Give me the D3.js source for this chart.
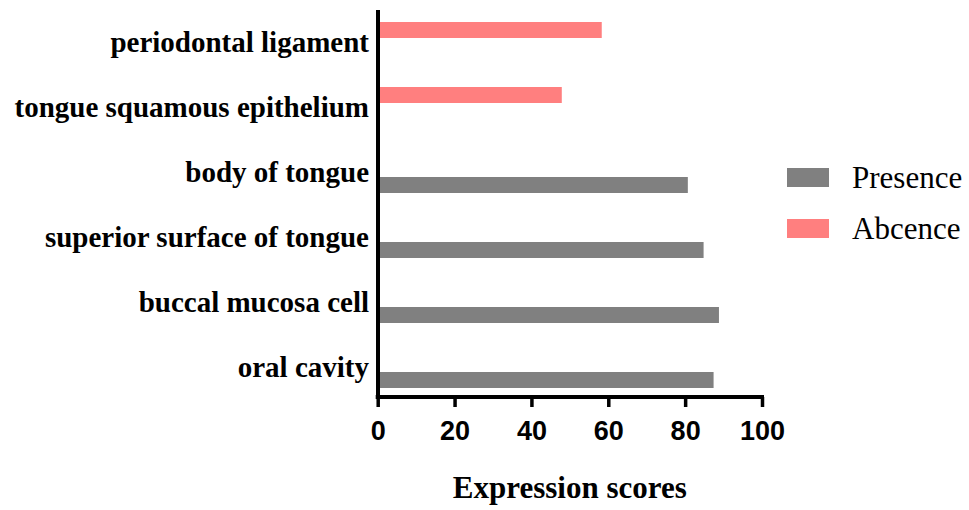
<!DOCTYPE html>
<html>
<head>
<meta charset="utf-8">
<script src="https://cdn.jsdelivr.net/npm/d3@7"></script>
<style>
  body { margin: 0; background: #fff; }
  svg { display: block; }
</style>
</head>
<body>
<div id="my_dataviz"></div>
<script>
var categories = ["periodontal ligament", "tongue squamous epithelium", "body of tongue",
                  "superior surface of tongue", "buccal mucosa cell", "oral cavity"];
var seriesNames = ["Abcence", "Presence"];
var presence = [null, null, 80.7, 84.8, 88.8, 87.4];
var abcence = [58.3, 47.9, null, null, null, null];
var xTicks = [0, 20, 40, 60, 80, 100];

var colors = {Presence: "#808080", Abcence: "#ff7f7f"};

var width = 969, height = 510;
var serif = "'Liberation Serif', 'Times New Roman', serif";

var svg = d3.select("#my_dataviz")
  .append("svg")
    .attr("width", width)
    .attr("height", height);

var x = d3.scaleLinear()
  .domain([0, 100])
  .range([377.7, 762]);

var y = d3.scaleBand()
  .domain(categories)
  .range([10, 400]);

// inner band: Abcence on top, Presence below
var y1 = d3.scaleBand()
  .domain(seriesNames)
  .range([y.bandwidth() / 2 - 20.5, y.bandwidth() / 2 + 20.5])
  .paddingInner(0.36);

var rows = [];
categories.forEach(function(c, i) {
  if (abcence[i] != null) rows.push({cat: c, series: "Abcence", value: abcence[i]});
  if (presence[i] != null) rows.push({cat: c, series: "Presence", value: presence[i]});
});

svg.append("g").selectAll("rect")
  .data(rows)
  .enter()
  .append("rect")
    .attr("x", x(0))
    .attr("y", function(d) { return y(d.cat) + y1(d.series); })
    .attr("width", function(d) { return x(d.value) - x(0); })
    .attr("height", y1.bandwidth())
    .attr("fill", function(d) { return colors[d.series]; });

// x axis
var xAxis = svg.append("g")
  .attr("transform", "translate(0,397)")
  .call(d3.axisBottom(x).tickValues(xTicks).tickSize(10).tickSizeOuter(0).tickPadding(14));
xAxis.select(".domain")
  .attr("stroke", "#000")
  .attr("stroke-width", 4)
  .attr("d", "M" + (x(0) - 2) + ",0H" + (x(100) + 2));
xAxis.selectAll(".tick line")
  .attr("stroke", "#000")
  .attr("stroke-width", 3.5);
xAxis.selectAll(".tick text")
  .attr("fill", "#000")
  .style("font-family", "'Liberation Sans', Arial, sans-serif")
  .style("font-weight", "bold")
  .style("font-size", "27px");

// y axis
var yAxis = svg.append("g")
  .attr("transform", "translate(378,0)")
  .call(d3.axisLeft(y).tickSize(0).tickPadding(9));
yAxis.select(".domain")
  .attr("stroke", "#000")
  .attr("stroke-width", 4)
  .attr("d", "M0,10V399");
yAxis.selectAll(".tick text")
  .attr("fill", "#000")
  .style("font-family", serif)
  .style("font-weight", "bold")
  .style("font-size", "29px");

// axis title
svg.append("text")
  .attr("x", x(50))
  .attr("y", 498)
  .attr("text-anchor", "middle")
  .style("font-family", serif)
  .style("font-weight", "bold")
  .style("font-size", "31px")
  .text("Expression scores");

// legend
var legendOrder = ["Presence", "Abcence"];
var legend = svg.append("g").selectAll("g")
  .data(legendOrder)
  .enter()
  .append("g")
    .attr("transform", function(d, i) { return "translate(787," + (168 + i * 51) + ")"; });
legend.append("rect")
  .attr("width", 42)
  .attr("height", 19)
  .attr("fill", function(d) { return colors[d]; });
legend.append("text")
  .attr("x", 65)
  .attr("y", 20)
  .style("font-family", serif)
  .style("font-size", "31px")
  .text(function(d) { return d; });
</script>
</body>
</html>
